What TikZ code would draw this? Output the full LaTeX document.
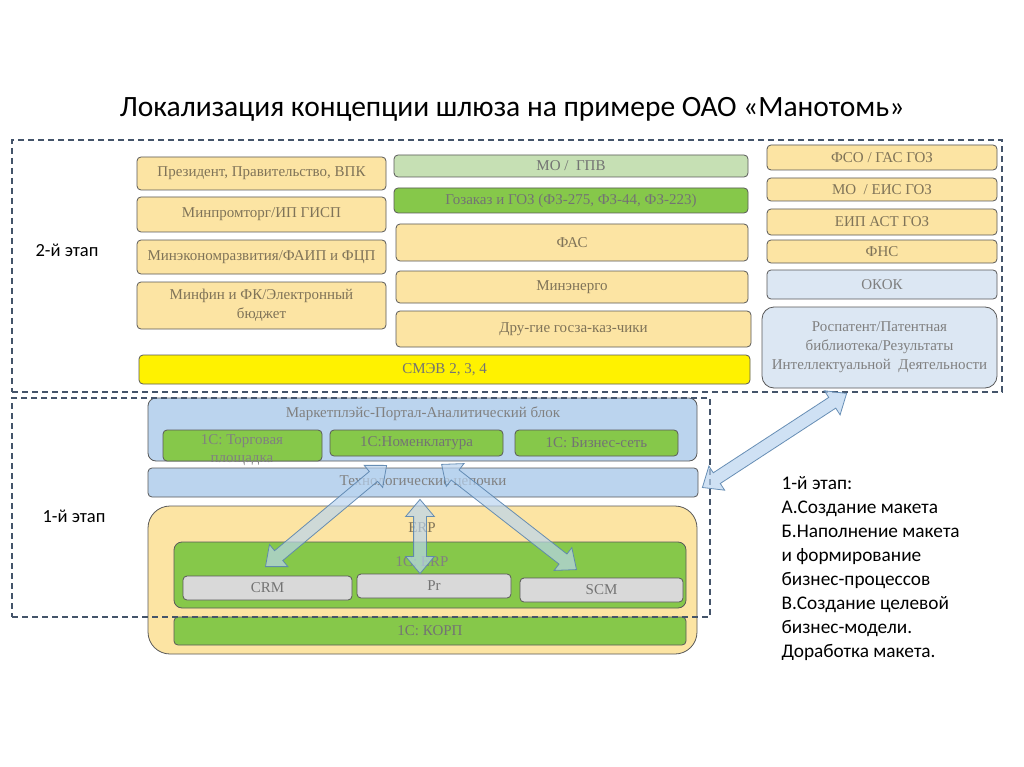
\documentclass[tikz,border=0pt]{standalone}
\usepackage{fontspec}
\setmainfont{Liberation Serif}
\newfontfamily\carlitofont{Carlito}
\usetikzlibrary{shapes.arrows,calc}
\definecolor{yel}{HTML}{FCE4A3}
\definecolor{ltgreen}{HTML}{C6E0B4}
\definecolor{grn}{HTML}{86C84A}
\definecolor{ltblue}{HTML}{DCE7F3}
\definecolor{midblue}{HTML}{BBD4EE}
\definecolor{gry}{HTML}{D9D9D9}
\definecolor{dashcol}{HTML}{44546A}
\definecolor{txt}{HTML}{7F7358}
\definecolor{arrfill}{HTML}{B9D4F0}
\definecolor{arrdraw}{HTML}{5A84AE}
\tikzset{
  bx/.style={draw=black!65, line width=0.8pt, rounded corners=4pt, inner sep=1pt,
    text=txt, font=\fontsize{15}{19}\selectfont, align=center},
  yb/.style={bx, fill=yel},
  gb/.style={bx, fill=grn, text=black!55},
  lgb/.style={bx, fill=ltgreen, text=black!55},
  bb/.style={bx, fill=ltblue, text=black!50},
  mb/.style={bx, fill=midblue, text=black!50},
  greyb/.style={bx, fill=gry, text=black!55},
  lbl/.style={font=\fontsize{15}{18}\selectfont, align=center},
  stagebox/.style={draw=dashcol, dashed, dash pattern=on 6pt off 4pt, line width=1.2pt},
  blockarr/.style={double arrow, draw=arrdraw, fill=arrfill, fill opacity=0.68, draw opacity=0.9,
    line width=0.8pt, inner xsep=0pt, inner ysep=6pt, double arrow head extend=8pt, double arrow tip angle=80},
}
\newcommand\bx[7]{\node[#6, minimum width={(#4-#2)*1pt}, minimum height={(#5-#3)*1pt}] (#1) at ({(#2+#4)/2},{(#3+#5)/2}) {#7};}
\newcommand\barrow[2]{\path let \p1=($(#2)-(#1)$), \n1={atan2(\y1,\x1)}, \n2={veclen(\x1,\y1)} in
  node[blockarr, rotate=\n1, minimum height=\n2] at ($(#1)!0.5!(#2)$) {};}
\begin{document}
\begin{tikzpicture}[x=1pt,y=-1pt]
\useasboundingbox (0,0) rectangle (1024,767);
\fill[white] (0,0) rectangle (1024,767);
% title
\node[font=\carlitofont\fontsize{29.5}{32}\selectfont] (title) at (512,109) {Локализация концепции шлюза на примере ОАО «Манотомь»};
% stage 2 left column
\bx{pres}{137}{157}{386}{190}{yb}{Президент, Правительство, ВПК}
\bx{minprom}{137}{197}{386}{232}{yb}{Минпромторг/ИП ГИСП}
\bx{mined}{137}{240}{386}{274}{yb}{Минэкономразвития/ФАИП и ФЦП}
\bx{minfin}{137}{282}{386}{329}{yb}{Минфин и ФК/Электронный\\бюджет}
\bx{smev}{139}{355}{750}{384}{bx,fill=yellow,text=black!55}{СМЭВ 2, 3, 4}
% middle column
\bx{mogpv}{394}{155}{748}{177}{lgb}{МО /\ \ ГПВ}
\bx{goz}{394}{188}{748}{213}{gb}{Гозаказ и ГОЗ (ФЗ-275, ФЗ-44, ФЗ-223)}
\bx{fas}{396}{224}{748}{261}{yb}{ФАС}
\bx{minen}{396}{271}{748}{303}{yb}{Минэнерго}
\bx{other}{396}{311}{751}{347}{yb}{Дру-гие госза-каз-чики}
% right column
\bx{fso}{767}{145}{997}{170}{yb}{ФСО / ГАС ГОЗ}
\bx{moeis}{767}{178}{997}{201}{yb}{МО\ \ / ЕИС ГОЗ}
\bx{eip}{767}{209}{997}{235}{yb}{ЕИП АСТ ГОЗ}
\bx{fns}{767}{240}{997}{263}{yb}{ФНС}
\bx{okok}{767}{270}{997}{299}{bb}{ОКОК}
\bx{rosp}{762}{307}{997}{388}{bb,rounded corners=12pt}{Роспатент/Патентная\\библиотека/Результаты\\Интеллектуальной\ \ Деятельности}
% stage 1
\bx{market}{148}{398}{697}{461}{mb,rounded corners=8pt}{}
\node[lbl, text=black!50] (markettxt) at (423,414) {Маркетплэйс-Портал-Аналитический блок};
\bx{torg}{163}{430}{322}{461}{gb}{}
\node[lbl, text=black!50, anchor=north] (torgtxt) at (242,431) {1С: Торговая\\площадка};
\bx{nomen}{330}{430}{503}{456}{gb}{1С:Номенклатура}
\bx{bsnet}{515}{430}{678}{456}{gb}{1С: Бизнес-сеть}
\bx{tech}{148}{468}{698}{497}{mb}{Технологические цепочки}
\bx{erp}{148}{506}{697}{654}{yb,rounded corners=22pt}{}
\node[lbl, text=txt] (erptxt) at (422,528) {ERP};
\bx{erp1c}{174}{542}{686}{608}{gb,rounded corners=8pt}{}
\node[lbl, text=black!50] (erp1ctxt) at (422,562) {1С: ERP};
\bx{crm}{183}{576}{352}{600}{greyb}{CRM}
\bx{pr}{357}{574}{511}{598}{greyb}{Pr}
\bx{scm}{520}{578}{683}{602}{greyb}{SCM}
\bx{korp}{174}{617}{686}{645}{gb}{1С: КОРП}
% stage frames
\node[stagebox, minimum width=990pt, minimum height=252pt] (st2) at (507,266) {};
\node[stagebox, minimum width=698pt, minimum height=219pt] (st1) at (361,507.5) {};
\node[font=\carlitofont\fontsize{18.5}{22}\selectfont, anchor=west] (st2lbl) at (32,250) {2-й этап};
\node[font=\carlitofont\fontsize{18.5}{22}\selectfont, anchor=west] (st1lbl) at (39,516) {1-й этап};
% right text
\node[font=\carlitofont\fontsize{19.3}{24}\selectfont, align=left, anchor=north west] (steps) at (778,473)
 {1-й этап:\\А.Создание макета\\Б.Наполнение макета\\и формирование\\бизнес-процессов\\В.Создание целевой\\бизнес-модели.\\Доработка макета.};
% arrows
\coordinate (a1t) at ($(nomen.south west)+(57,9)$);
\coordinate (a1b) at ($(crm.north)+(-2,-9)$);
\coordinate (a2t) at ($(tech.south)+(-3,2)$);
\coordinate (a2b) at ($(pr.north)+(-14,0)$);
\coordinate (a3t) at ($(nomen.south west)+(112,8)$);
\coordinate (a3b) at ($(scm.north)+(-25,-8)$);
\coordinate (a4t) at ($(rosp.south west)+(85,5)$);
\coordinate (a4b) at ($(tech.east)+(4,5)$);
\barrow{a1b}{a1t}
\barrow{a2b}{a2t}
\barrow{a3b}{a3t}
\barrow{a4b}{a4t}
\end{tikzpicture}
\end{document}
